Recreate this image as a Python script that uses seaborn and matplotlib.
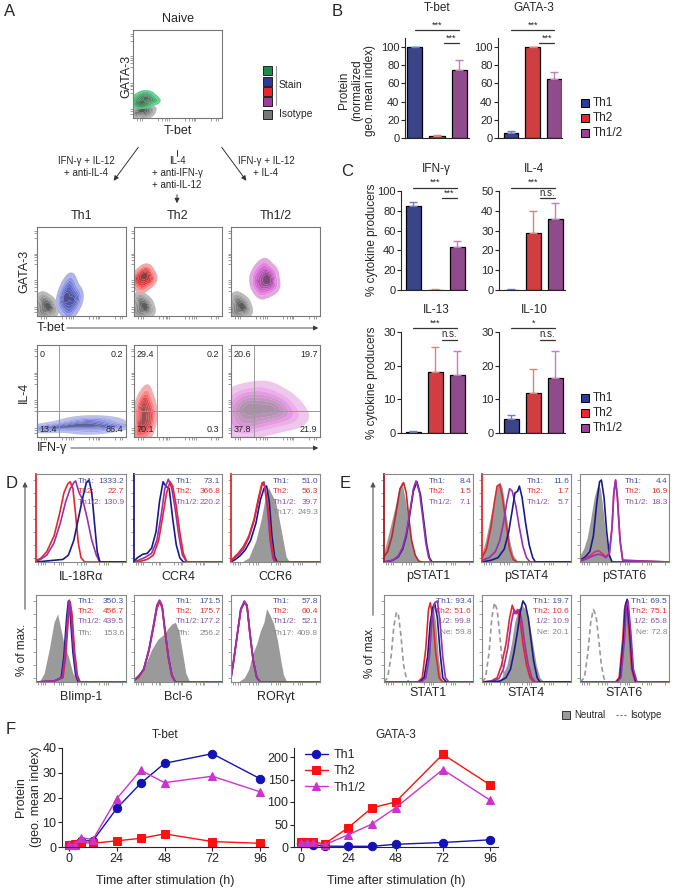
import numpy as np
import pandas as pd
import matplotlib
matplotlib.use("Agg")
import matplotlib.pyplot as plt
from matplotlib.patches import Rectangle
import seaborn as sns

sns.set_style("ticks")
plt.rcParams['font.family'] = ['Liberation Sans', 'DejaVu Sans']

# %% data
GROUPS = ['Th1', 'Th2', 'Th1/2']

# B: protein (normalized geo. mean index)
tbet_b = [100, 2, 75]
tbet_b_err = [0, 1, 11]
gata3_b = [5, 100, 65]
gata3_b_err = [3, 0, 8]

# C: % cytokine producers
ifng_c = [85, 0.5, 43]
ifng_c_err = [4, 0.3, 7]
il4_c = [0.2, 29, 36]
il4_c_err = [0.1, 11, 8]
il13_c = [0.3, 18, 17.3]
il13_c_err = [0.2, 7.5, 7]
il10_c = [4.2, 12, 16.3]
il10_c_err = [1.2, 7, 8]

# F: time course
hours = [0, 3, 6, 12, 24, 36, 48, 72, 96]
tbet_th1 = [1, 1, 2.5, 2.5, 15.6, 25.7, 33.8, 37.7, 27.6]
tbet_th2 = [1, 1.2, 1.8, 1.5, 2.5, 3.5, 5.3, 2.2, 1.5]
tbet_th12 = [1, 1, 3.8, 3, 19.5, 31, 26, 28.6, 22.3]
gata_th1 = [8, 8, 4, 2, 1.5, 1.5, 6, 10, 16]
gata_th2 = [11, 11, 11, 7, 43, 87, 100, 206, 138]
gata_th12 = [10, 10, 9, 5, 27, 51, 87, 172, 104]

# A: flow clouds (normalized channel coords)
naive_iso_x = [0.03, 0.06, 0.1, 0.14, 0.18, 0.08, 0.12, 0.05, 0.15, 0.2, 0.1]
naive_iso_y = [0.04, 0.1, 0.06, 0.12, 0.05, 0.14, 0.02, 0.06, 0.08, 0.1, 0.1]
naive_x = [0.03, 0.07, 0.1, 0.13, 0.16, 0.2, 0.24, 0.09, 0.15, 0.12, 0.18, 0.06]
naive_y = [0.2, 0.24, 0.18, 0.22, 0.26, 0.21, 0.19, 0.15, 0.16, 0.27, 0.23, 0.17]
iso_x = [0.02, 0.05, 0.08, 0.12, 0.15, 0.18, 0.1, 0.06, 0.13]
iso_y = [0.05, 0.12, 0.02, 0.08, 0.14, 0.06, 0.17, 0.2, 0.1]
th1_x = [0.28, 0.31, 0.34, 0.37, 0.4, 0.43, 0.46, 0.33, 0.38, 0.36, 0.41, 0.3]
th1_y = [0.15, 0.25, 0.32, 0.2, 0.28, 0.18, 0.22, 0.1, 0.38, 0.05, 0.12, 0.2]
th2_x = [0.02, 0.05, 0.08, 0.11, 0.14, 0.17, 0.2, 0.1, 0.13, 0.07, 0.16]
th2_y = [0.42, 0.36, 0.48, 0.4, 0.45, 0.38, 0.42, 0.32, 0.52, 0.44, 0.48]
th12_x = [0.28, 0.32, 0.36, 0.4, 0.44, 0.48, 0.35, 0.38, 0.42, 0.3, 0.46, 0.39]
th12_y = [0.42, 0.5, 0.38, 0.45, 0.4, 0.35, 0.28, 0.56, 0.32, 0.34, 0.48, 0.42]
ifn_th1_x = [0.08, 0.15, 0.22, 0.3, 0.38, 0.45, 0.5, 0.55, 0.6, 0.65, 0.7, 0.75, 0.8, 0.88, 0.55, 0.62]
ifn_th1_y = [0.08, 0.1, 0.12, 0.1, 0.14, 0.12, 0.16, 0.1, 0.15, 0.12, 0.18, 0.13, 0.1, 0.12, 0.2, 0.06]
ifn_th2_x = [0.04, 0.08, 0.12, 0.16, 0.2, 0.1, 0.14, 0.06, 0.11, 0.18]
ifn_th2_y = [0.05, 0.15, 0.25, 0.1, 0.2, 0.35, 0.42, 0.3, 0.12, 0.3]
ifn_th12_x = [0.05, 0.1, 0.15, 0.2, 0.25, 0.3, 0.38, 0.45, 0.52, 0.6, 0.68, 0.12, 0.18, 0.42, 0.5, 0.35, 0.08]
ifn_th12_y = [0.3, 0.22, 0.35, 0.28, 0.4, 0.2, 0.3, 0.35, 0.25, 0.3, 0.2, 0.45, 0.1, 0.15, 0.4, 0.5, 0.12]
quadrants = [['0', '0.2', '13.4', '86.4'], ['29.4', '0.2', '70.1', '0.3'], ['20.6', '19.7', '37.8', '21.9']]
tf_values = [('1.1', '4.4'), ('17.2', '2.7'), ('1.0', '23.8'), ('16.4', '12.8')]

# D histograms: (x, y) per curve
IL18_TH2 = ([0, .05, .12, .2, .26, .31, .35, .38, .41, .44, .47, .5, .54, 1], [.02, .04, .12, .3, .55, .8, .9, .93, .85, .55, .22, .05, 0, 0])
IL18_TH12 = ([0, .05, .12, .2, .27, .33, .38, .42, .44, .48, .52, .57, .62, .67, .71, 1], [.01, .03, .08, .22, .45, .7, .85, .92, .94, .8, .72, .5, .25, .08, 0, 0])
IL18_TH1 = ([0, .1, .2, .3, .36, .42, .47, .52, .56, .59, .62, .65, .68, .71, 1], [0, .01, .02, .03, .08, .25, .5, .75, .92, .95, .8, .45, .12, 0, 0])
CCR4_TH1 = ([0, .04, .1, .15, .2, .25, .29, .33, .36, .4, .44, .48, .52, .56, 1], [.01, .05, .09, .1, .16, .35, .7, .93, .88, .85, .5, .2, .05, 0, 0])
CCR4_TH12 = ([0, .05, .12, .2, .26, .31, .35, .39, .43, .47, .51, .55, .6, 1], [0, .02, .05, .1, .25, .55, .85, .96, .85, .6, .3, .08, 0, 0])
CCR4_TH2 = ([0, .08, .15, .22, .28, .33, .37, .41, .44, .48, .52, .56, .6, 1], [0, .01, .03, .08, .25, .55, .8, .93, .88, .65, .35, .1, 0, 0])
CCR6_TH17 = ([.12, .2, .28, .34, .38, .42, .45, .5, .54, .58, .62, .66], [0, .05, .25, .5, .72, .87, .8, .7, .5, .28, .06, 0])
CCR6_TH2 = ([0, .03, .08, .14, .2, .26, .31, .35, .38, .42, .45, .48, .5, 1], [.02, .05, .1, .18, .3, .5, .75, .92, .88, .6, .25, .05, 0, 0])
CCR6_TH12 = ([0, .03, .08, .14, .2, .26, .31, .35, .37, .41, .44, .47, .49, 1], [.01, .04, .08, .15, .28, .48, .72, .9, .93, .62, .25, .05, 0, 0])
CCR6_TH1 = ([0, .05, .1, .16, .22, .28, .33, .37, .4, .43, .46, .49, .52, 1], [0, .03, .07, .14, .25, .45, .72, .85, .88, .7, .3, .06, 0, 0])
BLIMP_TFH = ([0, .04, .09, .15, .2, .24, .28, .32, .36, .41, .46, .5], [0, .01, .1, .4, .7, .8, .6, .4, .3, .1, .02, 0])
BLIMP_TH1 = ([0, .2, .28, .31, .34, .36, .38, .41, .44, .47, 1], [0, .01, .05, .3, .75, .95, .8, .35, .08, 0, 0])
BLIMP_TH12 = ([0, .2, .29, .32, .35, .37, .39, .42, .45, .48, 1], [0, .01, .05, .3, .75, .96, .8, .35, .08, 0, 0])
BLIMP_TH2 = ([0, .2, .3, .33, .36, .38, .4, .43, .46, .49, 1], [0, .01, .05, .3, .75, .94, .8, .35, .08, 0, 0])
BCL6_TFH = ([0, .05, .12, .2, .27, .33, .38, .43, .47, .51, .55, .59, .63, .66], [.05, .1, .18, .38, .5, .55, .62, .68, .7, .6, .35, .1, .01, 0])
BCL6_TH1 = ([0, .05, .11, .17, .22, .26, .29, .32, .35, .39, .43, .47, 1], [.02, .06, .15, .38, .65, .88, .95, .88, .62, .3, .08, 0, 0])
BCL6_TH2 = ([0, .05, .11, .17, .22, .26, .29, .32, .35, .39, .43, .47, 1], [.02, .05, .14, .36, .63, .86, .94, .87, .6, .28, .07, 0, 0])
BCL6_TH12 = ([0, .05, .11, .17, .22, .26, .29, .32, .35, .39, .43, .47, 1], [.02, .06, .15, .38, .66, .9, .96, .9, .63, .3, .08, 0, 0])
ROR_TH17 = ([.08, .15, .2, .25, .29, .33, .37, .4, .44, .48, .52, .56, .59, .63], [0, .05, .15, .35, .45, .6, .7, .86, .78, .68, .5, .25, .08, 0])
ROR_TH1 = ([0, .03, .07, .11, .15, .18, .21, .25, .29, .33, 1], [.05, .25, .55, .85, .93, .9, .6, .25, .05, 0, 0])
ROR_TH2 = ([0, .03, .07, .11, .15, .18, .21, .25, .29, .33, 1], [.05, .24, .55, .84, .94, .88, .58, .24, .05, 0, 0])
ROR_TH12 = ([0, .03, .07, .11, .15, .18, .21, .25, .29, .33, 1], [.05, .26, .56, .86, .95, .9, .6, .25, .05, 0, 0])

# E histograms
PS1_NEU = ([0, .04, .08, .12, .16, .2, .24, .28, .32, .36, .4, .44], [.12, .28, .45, .62, .82, .93, .72, .42, .18, .06, .01, 0])
PS1_TH2 = ([0, .04, .09, .14, .18, .22, .25, .28, .31, .35, .39, .43, 1], [.06, .12, .3, .6, .85, .92, .8, .5, .25, .08, .01, 0, 0])
PS1_TH1 = ([0, .1, .16, .21, .25, .29, .33, .37, .41, .45, .48, .51, .54, 1], [0, .02, .06, .15, .3, .55, .82, .93, .78, .45, .2, .05, 0, 0])
PS1_TH12 = ([0, .1, .16, .21, .25, .29, .33, .36, .4, .44, .47, .5, .53, 1], [0, .02, .07, .17, .33, .58, .85, .94, .8, .48, .22, .06, 0, 0])
PS4_NEU = ([0, .04, .08, .12, .16, .2, .23, .27, .31, .35, .39, .43], [.1, .25, .45, .65, .85, .93, .85, .55, .25, .08, .02, 0])
PS4_TH2 = ([0, .05, .1, .14, .17, .2, .23, .27, .31, .35, .39, 1], [.05, .15, .4, .7, .88, .9, .75, .45, .15, .03, 0, 0])
PS4_TH12 = ([0, .08, .15, .2, .24, .28, .31, .34, .38, .42, .46, .5, .54, 1], [.02, .05, .12, .25, .45, .7, .85, .82, .65, .4, .18, .05, 0, 0])
PS4_TH1 = ([0, .1, .18, .25, .3, .34, .37, .4, .42, .45, .49, .53, .57, .6, 1], [0, .02, .05, .15, .35, .6, .8, .82, .88, .75, .45, .2, .05, 0, 0])
PS6_NEU = ([0, .04, .08, .12, .16, .2, .23, .26, .29, .32, .35, .39], [.08, .15, .28, .5, .75, .9, .85, .6, .3, .1, .02, 0])
PS6_TH1 = ([0, .06, .11, .15, .19, .22, .24, .27, .3, .33, .36, 1], [.02, .06, .12, .3, .7, .93, .95, .75, .35, .08, 0, 0])
PS6_TH2 = ([0, .06, .12, .17, .21, .25, .29, .33, .36, .38, .4, .42, .45, .48, 1], [.01, .04, .08, .12, .13, .1, .06, .1, .4, .8, .95, .75, .25, .02, 0])
PS6_TH12 = ([0, .06, .12, .17, .21, .25, .29, .33, .36, .38, .4, .42, .45, .48, 1], [.01, .03, .06, .08, .09, .08, .05, .1, .4, .8, .95, .75, .25, .02, 0])
S1_ISO = ([0, .04, .08, .11, .14, .16, .19, .22, .25, .28, 1], [0, .05, .3, .65, .82, .8, .55, .2, .05, 0, 0])
S1_NEU = ([.4, .45, .49, .52, .55, .58, .61, .64, .68], [0, .05, .3, .7, .9, .7, .3, .05, 0])
S1_TH2 = ([0, .38, .43, .47, .5, .52, .55, .58, .62, .66, 1], [0, 0, .05, .4, .85, .93, .75, .35, .05, 0, 0])
S1_TH1 = ([0, .4, .45, .49, .52, .55, .57, .6, .63, .66, .7, 1], [0, 0, .05, .3, .7, .88, .92, .75, .35, .05, 0, 0])
S1_TH12 = ([0, .42, .47, .51, .54, .57, .6, .63, .66, .69, .73, 1], [0, 0, .05, .3, .75, .93, .95, .7, .3, .05, 0, 0])
S4_ISO = ([0, .04, .08, .11, .14, .17, .2, .23, .26, .29, 1], [0, .05, .35, .75, .93, .85, .55, .2, .04, 0, 0])
S4_NEU = ([.15, .22, .28, .33, .37, .41, .45, .49, .53, .57, .61, .65, .7], [0, .05, .2, .45, .72, .85, .9, .85, .7, .45, .2, .05, 0])
S4_TH2 = ([0, .1, .17, .22, .27, .31, .34, .37, .4, .43, .46, .5, .54, .58, 1], [0, .01, .05, .2, .45, .75, .9, .8, .85, .7, .45, .2, .05, 0, 0])
S4_TH12 = ([0, .12, .19, .24, .29, .33, .36, .39, .42, .45, .48, .52, .56, .6, 1], [0, .01, .04, .15, .4, .7, .85, .8, .85, .7, .45, .2, .05, 0, 0])
S4_TH1 = ([0, .2, .27, .32, .36, .4, .43, .46, .49, .52, .55, .58, .62, .65, 1], [0, .01, .05, .15, .35, .6, .82, .95, .9, .75, .5, .25, .05, 0, 0])
S6_ISO = ([0, .05, .09, .12, .15, .18, .21, .24, .27, .3, 1], [0, .05, .35, .7, .85, .78, .5, .2, .04, 0, 0])
S6_NEU = ([.38, .43, .47, .5, .52, .54, .57, .6, .64], [0, .05, .35, .75, .92, .8, .35, .05, 0])
S6_TH2 = ([0, .4, .44, .48, .5, .52, .55, .58, .62, 1], [0, 0, .05, .5, .85, .93, .6, .15, 0, 0])
S6_TH1 = ([0, .41, .45, .49, .51, .53, .56, .59, .63, 1], [0, 0, .05, .5, .9, .97, .6, .15, 0, 0])
S6_TH12 = ([0, .42, .46, .5, .52, .54, .57, .6, .64, 1], [0, 0, .05, .5, .88, .95, .6, .15, 0, 0])

d_labels = [['IL-18Rα', 'CCR4', 'CCR6'], ['Blimp-1', 'Bcl-6', 'RORγt']]
d_values = [[['1333.2', '22.7', '130.9'], ['73.1', '366.8', '220.2'], ['51.0', '56.3', '39.7', '249.3']],
            [['350.3', '456.7', '439.5', '153.6'], ['171.5', '175.7', '177.2', '256.2'], ['57.8', '60.4', '52.1', '409.8']]]
d_ref = [[None, None, 'Th17:'], ['Tfh:', 'Tfh:', 'Th17:']]
e_labels = [['pSTAT1', 'pSTAT4', 'pSTAT6'], ['STAT1', 'STAT4', 'STAT6']]
e_values = [[['8.4', '1.5', '7.1'], ['11.6', '1.7', '5.7'], ['4.4', '16.9', '18.3']],
            [['93.4', '51.6', '99.8', '59.8'], ['19.7', '10.6', '10.9', '20.1'], ['69.5', '75.1', '65.8', '72.8']]]

# %% style
W, H = 678, 890
BLUE, RED, PURPLE, GREEN = '#2d3a96', '#e8262b', '#9c3f98', '#1f8a4c'
ERRC = ['#6f7cc0', '#ee7b7b', '#c27fc0']
HBLUE, HRED, HPURP = '#1b1a8a', '#e2282c', '#9b30b0'
TBLUE, TRED, TPURP, TGRAY = '#3f4fa3', '#e5322d', '#8a52a8', '#858585'
FBLUE, FRED, FPURP = '#1313b5', '#ff1010', '#cc33cc'

fig = plt.figure(figsize=(W / 100, H / 100), dpi=100)
ov = fig.add_axes([0, 0, 1, 1])
ov.set_xlim(0, W)
ov.set_ylim(H, 0)
ov.axis('off')


def px_axes(x0, y0, x1, y1):
    return fig.add_axes([x0 / W, 1 - y1 / H, (x1 - x0) / W, (y1 - y0) / H])


def txt(x, y, s, **kw):
    kw.setdefault('fontsize', 8)
    kw.setdefault('ha', 'center')
    kw.setdefault('va', 'center')
    ov.text(x, y, s, **kw)


def arrow(x0, y0, x1, y1, lw=0.7):
    ov.annotate('', xy=(x1, y1), xytext=(x0, y0),
                arrowprops=dict(arrowstyle='-|>', color='#333333', lw=lw, mutation_scale=7))


FLOW_TICKS = [0.04, 0.08, 0.1, 0.28, 0.33, 0.36, 0.38, 0.4, 0.58, 0.63, 0.66, 0.68, 0.7, 0.88, 0.93, 0.96]


def flow_axes(ax):
    ax.set_xlim(0, 1)
    ax.set_ylim(0, 1)
    ax.set_xticks(FLOW_TICKS)
    ax.set_yticks(FLOW_TICKS)
    ax.set_xticklabels([])
    ax.set_yticklabels([])
    ax.tick_params(length=2, width=0.5, color='#777777')
    for s in ax.spines.values():
        s.set_color('#777777')
        s.set_linewidth(0.8)
    ax.set_xlabel('')
    ax.set_ylabel('')


def cloud(ax, x, y, c, alpha=1.0):
    sns.kdeplot(x=x, y=y, fill=True, color=c, levels=8, thresh=0.05, bw_adjust=1.1,
                ax=ax, alpha=alpha, antialiased=True, linewidths=0)


# %% Panel A
txt(10, 12, 'A', fontsize=12)
ax = px_axes(133, 30, 222, 118)
cloud(ax, naive_iso_x, naive_iso_y, '#555555')
cloud(ax, naive_x, naive_y, GREEN, alpha=0.9)
flow_axes(ax)
txt(178, 19, 'Naive', fontsize=9)
txt(126, 76, 'GATA-3', fontsize=9, rotation=90)
txt(178, 131, 'T-bet', fontsize=9)
txt(152, 39, 'T-bet:', fontsize=6.5, ha='left')
txt(203, 39, tf_values[0][0], fontsize=6.5, ha='right')
txt(152, 51, 'GATA-3: ' + tf_values[0][1], fontsize=6.5, ha='left')

leg_cols = [GREEN, BLUE, RED, PURPLE, '#777777']
for i, (c, yy) in enumerate(zip(leg_cols, [70, 81, 91, 101, 114])):
    ov.add_patch(Rectangle((263, yy - 4.5), 9, 9, facecolor=c, edgecolor='#222222', lw=0.7))
ov.plot([276, 276], [66, 105], color='#999999', lw=0.8)
txt(279, 85, 'Stain', fontsize=7.5, ha='left')
txt(279, 114, 'Isotype', fontsize=7.5, ha='left')

arrow(140, 145, 112, 183)
arrow(220, 145, 248, 183)
ov.plot([177, 177], [150, 156], color='#333333', lw=0.7)
arrow(177, 192, 177, 206)
txt(86, 161, 'IFN-γ + IL-12', fontsize=7)
txt(86, 173, '+ anti-IL-4', fontsize=7)
txt(177, 161, 'IL-4', fontsize=7)
txt(177, 173, '+ anti-IFN-γ', fontsize=7)
txt(177, 185, '+ anti-IL-12', fontsize=7)
txt(266, 161, 'IFN-γ + IL-12', fontsize=7)
txt(266, 173, '+ IL-4', fontsize=7)

xs_a = [(37, 126), (134, 222), (231, 320)]
stains = [(th1_x, th1_y, BLUE), (th2_x, th2_y, RED), (th12_x, th12_y, PURPLE)]
ifn = [(ifn_th1_x, ifn_th1_y, BLUE, 0.9), (ifn_th2_x, ifn_th2_y, RED, 0.9), (ifn_th12_x, ifn_th12_y, PURPLE, 0.6)]
vgates = [0.25, 0.26, 0.26]
for i, (x0, x1) in enumerate(xs_a):
    ax = px_axes(x0, 227, x1, 316)
    cloud(ax, iso_x, iso_y, '#555555')
    cloud(ax, stains[i][0], stains[i][1], stains[i][2])
    flow_axes(ax)
    cx = (x0 + x1) / 2
    txt(cx, 216, GROUPS[i], fontsize=9)
    txt(x0 + 20, 237, 'T-bet:', fontsize=6.5, ha='left')
    txt(x0 + 71, 237, tf_values[i + 1][0], fontsize=6.5, ha='right')
    txt(x0 + 20, 249, 'GATA-3: ' + tf_values[i + 1][1], fontsize=6.5, ha='left')

    ax2 = px_axes(x0, 345, x1, 437)
    cloud(ax2, ifn[i][0], ifn[i][1], ifn[i][2], alpha=ifn[i][3])
    flow_axes(ax2)
    ax2.axvline(vgates[i], color='#999999', lw=0.7)
    ax2.axhline(0.28, color='#999999', lw=0.7)
    q = quadrants[i]
    kw = dict(fontsize=6.5, transform=ax2.transAxes)
    ax2.text(0.03, 0.95, q[0], ha='left', va='top', **kw)
    ax2.text(0.97, 0.95, q[1], ha='right', va='top', **kw)
    ax2.text(0.03, 0.03, q[2], ha='left', va='bottom', **kw)
    ax2.text(0.97, 0.03, q[3], ha='right', va='bottom', **kw)

txt(24, 271, 'GATA-3', fontsize=9, rotation=90)
txt(37, 328, 'T-bet', fontsize=9, ha='left')
arrow(64, 328, 321, 328, lw=0.6)
txt(24, 392, 'IL-4', fontsize=9, rotation=90)
txt(37, 448, 'IFN-γ', fontsize=9, ha='left')
arrow(68, 448, 321, 448, lw=0.6)


# %% Panels B and C (bars)
def bars(ax, vals, errs, top, ticks):
    sns.barplot(x=GROUPS, y=vals, hue=GROUPS, palette=[BLUE, RED, PURPLE], legend=False,
                edgecolor='black', linewidth=0.9, width=0.68, errorbar=None, ax=ax)
    for i in range(3):
        ax.errorbar([i], [vals[i]], yerr=[[0], [errs[i]]], fmt='none', ecolor=ERRC[i],
                    elinewidth=1, capsize=3, capthick=1, zorder=1)
    ax.set_ylim(0, top)
    ax.set_yticks(ticks)
    ax.set_xticks([])
    ax.set_xlabel('')
    ax.set_ylabel('')
    ax.tick_params(axis='y', labelsize=8, length=3, width=0.8, pad=1)
    sns.despine(ax=ax)


def sig(ax, y, x0, x1, s, dy):
    ax.plot([x0, x1], [y, y], color='#333333', lw=0.9, clip_on=False)
    ax.text((x0 + x1) / 2, y + dy, s, ha='center', va='bottom', fontsize=6.5 if s != 'n.s.' else 7, clip_on=False)


txt(337, 12, 'B', fontsize=12)
ax = px_axes(405, 38, 469, 138)
bars(ax, tbet_b, tbet_b_err, 110, [0, 20, 40, 60, 80, 100])
ax.set_xlim(-0.45, 2.45)
sig(ax, 118.5, 0, 2, '***', 1)
sig(ax, 104, 1.3, 2, '***', 1)
txt(437, 8, 'T-bet', fontsize=8.5)
ax = px_axes(498, 38, 562, 138)
bars(ax, gata3_b, gata3_b_err, 110, [0, 20, 40, 60, 80, 100])
ax.set_xlim(-0.6, 2.35)
sig(ax, 118.5, 0, 2, '***', 1)
sig(ax, 104, 1.3, 2, '***', 1)
txt(534, 8, 'GATA-3', fontsize=8.5)
txt(344, 90, 'Protein', fontsize=8.5, rotation=90)
txt(357, 90, '(normalized', fontsize=8.5, rotation=90)
txt(370, 90, 'geo. mean index)', fontsize=8.5, rotation=90)

txt(347, 171, 'C', fontsize=12)
c_specs = [(401, 467, 191, 290, ifng_c, ifng_c_err, 100, [0, 20, 40, 60, 80, 100], 'IFN-γ', ['***', '***']),
           (499, 565, 191, 290, il4_c, il4_c_err, 50, [0, 10, 20, 30, 40, 50], 'IL-4', ['***', 'n.s.']),
           (401, 467, 332, 433, il13_c, il13_c_err, 30, [0, 10, 20, 30], 'IL-13', ['***', 'n.s.']),
           (499, 565, 332, 433, il10_c, il10_c_err, 30, [0, 10, 20, 30], 'IL-10', ['*', 'n.s.'])]
for x0, x1, y0, y1, v, e, top, ticks, title, stars in c_specs:
    ax = px_axes(x0, y0, x1, y1)
    bars(ax, v, e, top, ticks)
    ax.set_xlim(-0.55, 2.45)
    sig(ax, top * 1.035, 0, 2, stars[0], top * 0.005)
    sig(ax, top * 0.925, 1.3, 2, stars[1], top * 0.005)
    txt(436 if x0 < 450 else 534, y0 - 22, title, fontsize=8.5)
txt(372, 240, '% cytokine producers', fontsize=8.5, rotation=90)
txt(372, 383, '% cytokine producers', fontsize=8.5, rotation=90)

for ly in (103, 398):
    for i, (c, g) in enumerate(zip([BLUE, RED, PURPLE], GROUPS)):
        yy = ly + i * 15
        ov.add_patch(Rectangle((581, yy - 4), 8, 8, facecolor=c, edgecolor='black', lw=0.7))
        txt(593, yy, g, fontsize=8.5, ha='left')


# %% Panels D and E (histograms)
def hist_axes(ax, left_color=None):
    ax.set_xlim(0, 1)
    ax.set_ylim(0, 1.02)
    ax.set_xticks([0.02, 0.05, 0.08, 0.1, 0.2, 0.25, 0.28, 0.3, 0.45, 0.5, 0.53, 0.55, 0.7, 0.75, 0.78, 0.8, 0.95])
    ax.set_yticks([0.05, 0.2, 0.35, 0.5, 0.65, 0.8, 0.95])
    ax.set_xticklabels([])
    ax.set_yticklabels([])
    ax.tick_params(length=2, width=0.5, color='#777777')
    for s in ax.spines.values():
        s.set_color('#888888')
        s.set_linewidth(0.8)
    if left_color:
        ax.spines['left'].set_color(left_color)
        ax.spines['left'].set_linewidth(1.3)


def curve(ax, c, col, fill=False, ls='-'):
    if fill:
        ax.fill_between(c[0], c[1], color='#9a9a9a', lw=0)
    else:
        ax.plot(c[0], c[1], color=col, lw=1.2, ls=ls)


def annot(ax, labels, vals, cols, ys, lx):
    for lab, v, c, y in zip(labels, vals, cols, ys):
        if lx is None:
            ax.text(0.98, y, lab + ' ' + v, color=c, fontsize=6, ha='right', va='center', transform=ax.transAxes)
        else:
            ax.text(lx, y, lab, color=c, fontsize=6, ha='left', va='center', transform=ax.transAxes)
            ax.text(0.98, y, v, color=c, fontsize=6, ha='right', va='center', transform=ax.transAxes)


txt(12, 483, 'D', fontsize=12)
d_curves = [[[(IL18_TH2, HRED), (IL18_TH12, HPURP), (IL18_TH1, HBLUE)],
             [(CCR4_TH1, HBLUE), (CCR4_TH12, HPURP), (CCR4_TH2, HRED)],
             [(CCR6_TH1, HBLUE), (CCR6_TH12, HPURP), (CCR6_TH2, HRED)]],
            [[(BLIMP_TH1, HBLUE), (BLIMP_TH2, HRED), (BLIMP_TH12, HPURP)],
             [(BCL6_TH1, HBLUE), (BCL6_TH2, HRED), (BCL6_TH12, HPURP)],
             [(ROR_TH1, HBLUE), (ROR_TH2, HRED), (ROR_TH12, HPURP)]]]
d_gray = [[None, None, CCR6_TH17], [BLIMP_TFH, BCL6_TFH, ROR_TH17]]
d_left = [[HRED, HBLUE, HRED], [None, None, None]]
rows_y = [(474, 562), (595, 682)]
d_x = [(36, 126), (134, 222), (231, 320)]
for r in range(2):
    for p in range(3):
        ax = px_axes(d_x[p][0], rows_y[r][0], d_x[p][1], rows_y[r][1])
        if d_gray[r][p] is not None:
            curve(ax, d_gray[r][p], None, fill=True)
        for c, col in d_curves[r][p]:
            curve(ax, c, col)
        hist_axes(ax, d_left[r][p])
        vals = d_values[r][p]
        labs = ['Th1:', 'Th2:', 'Th1/2:']
        cols = [TBLUE, TRED, TPURP]
        if len(vals) == 4:
            labs = labs + [d_ref[r][p]]
            cols = cols + [TGRAY]
        ys = [0.92, 0.8, 0.68, 0.56] if r == 0 else [0.93, 0.81, 0.69, 0.56]
        annot(ax, labs, vals, cols, ys, 0.47)
        txt((d_x[p][0] + d_x[p][1]) / 2, rows_y[r][1] + 15, d_labels[r][p], fontsize=9)
ov.annotate('', xy=(25, 479), xytext=(25, 612),
            arrowprops=dict(arrowstyle='-|>', color='#555555', lw=0.8, mutation_scale=7))
txt(22, 650, '% of max.', fontsize=8.5, rotation=90)

txt(345, 483, 'E', fontsize=12)
e_curves = [[[(PS1_TH2, '#c0272d'), (PS1_TH1, HBLUE), (PS1_TH12, HPURP)],
             [(PS4_TH2, HRED), (PS4_TH12, HPURP), (PS4_TH1, HBLUE)],
             [(PS6_TH1, HBLUE), (PS6_TH2, '#e0306a'), (PS6_TH12, HPURP)]],
            [[(S1_TH2, HRED), (S1_TH1, HBLUE), (S1_TH12, HPURP)],
             [(S4_TH2, HRED), (S4_TH12, HPURP), (S4_TH1, HBLUE)],
             [(S6_TH2, HRED), (S6_TH1, HBLUE), (S6_TH12, HPURP)]]]
e_gray = [[PS1_NEU, PS4_NEU, PS6_NEU], [S1_NEU, S4_NEU, S6_NEU]]
e_iso = [[None, None, None], [S1_ISO, S4_ISO, S6_ISO]]
e_left = [['#a01820', HRED, None], [None, None, None]]
e_x = [(384, 473), (482, 571), (580, 669)]
for r in range(2):
    for p in range(3):
        ax = px_axes(e_x[p][0], rows_y[r][0], e_x[p][1], rows_y[r][1])
        curve(ax, e_gray[r][p], None, fill=True)
        if e_iso[r][p] is not None:
            curve(ax, e_iso[r][p], '#999999', ls=(0, (3, 2)))
        for c, col in e_curves[r][p]:
            curve(ax, c, col)
        hist_axes(ax, e_left[r][p])
        vals = e_values[r][p]
        if r == 0:
            annot(ax, ['Th1:', 'Th2:', 'Th1/2:'], vals, [TBLUE, TRED, TPURP], [0.92, 0.8, 0.68], 0.5)
        else:
            annot(ax, ['Th1:', 'Th2:', '1/2:', 'Ne:'], vals, [TBLUE, TRED, TPURP, TGRAY],
                  [0.93, 0.81, 0.69, 0.57], None)
        txt((e_x[p][0] + e_x[p][1]) / 2, rows_y[r][1] + (14 if r == 0 else 11), e_labels[r][p], fontsize=9)
ov.annotate('', xy=(373, 479), xytext=(373, 618),
            arrowprops=dict(arrowstyle='-|>', color='#555555', lw=0.8, mutation_scale=7))
txt(370, 652, '% of max.', fontsize=8.5, rotation=90)
ov.add_patch(Rectangle((562, 711), 8, 8, facecolor='#9a9a9a', edgecolor='#333333', lw=0.7))
txt(574, 715, 'Neutral', fontsize=7, ha='left')
ov.plot([616, 627], [715, 715], color='#777777', lw=0.8, ls=(0, (2, 1.5)))
txt(630, 715, 'Isotype', fontsize=7, ha='left')

# %% Panel F
txt(11, 729, 'F', fontsize=12)
df_t = pd.DataFrame({'h': hours, 'Th1': tbet_th1, 'Th2': tbet_th2, 'Th1/2': tbet_th12})
df_g = pd.DataFrame({'h': hours, 'Th1': gata_th1, 'Th2': gata_th2, 'Th1/2': gata_th12})
styles = [('Th1', FBLUE, 'o'), ('Th2', FRED, 's'), ('Th1/2', FPURP, '^')]


def timecourse(ax, df, top, ticks, legend):
    for g, col, m in styles:
        sns.lineplot(data=df, x='h', y=g, color=col, marker=m, markersize=6, markeredgecolor=col,
                     linewidth=1, label=g, legend=legend, ax=ax, clip_on=False)
    ax.set_xlim(-3.5, 100)
    ax.set_ylim(0, top)
    ax.set_xticks([0, 24, 48, 72, 96])
    ax.set_yticks(ticks)
    ax.set_xlabel('')
    ax.set_ylabel('')
    ax.tick_params(labelsize=9, length=3, width=0.8, pad=1)
    sns.despine(ax=ax)


ax = px_axes(62, 748, 268, 847)
timecourse(ax, df_t, 40, [0, 10, 20, 30, 40], False)
txt(165, 735, 'T-bet', fontsize=8.5)
txt(165, 881, 'Time after stimulation (h)', fontsize=9)
txt(21, 797, 'Protein', fontsize=9, rotation=90)
txt(36, 797, '(geo. mean index)', fontsize=9, rotation=90)
ax = px_axes(294, 748, 498, 847)
timecourse(ax, df_g, 220, [0, 50, 100, 150, 200], True)
ax.legend(loc='upper left', bbox_to_anchor=(0.03, 1.04), frameon=False, fontsize=9,
          handlelength=1.8, labelspacing=0.35, borderaxespad=0, handletextpad=0.5)
txt(396, 735, 'GATA-3', fontsize=8.5)
txt(396, 881, 'Time after stimulation (h)', fontsize=9)

fig.savefig('out.png', dpi=100)
